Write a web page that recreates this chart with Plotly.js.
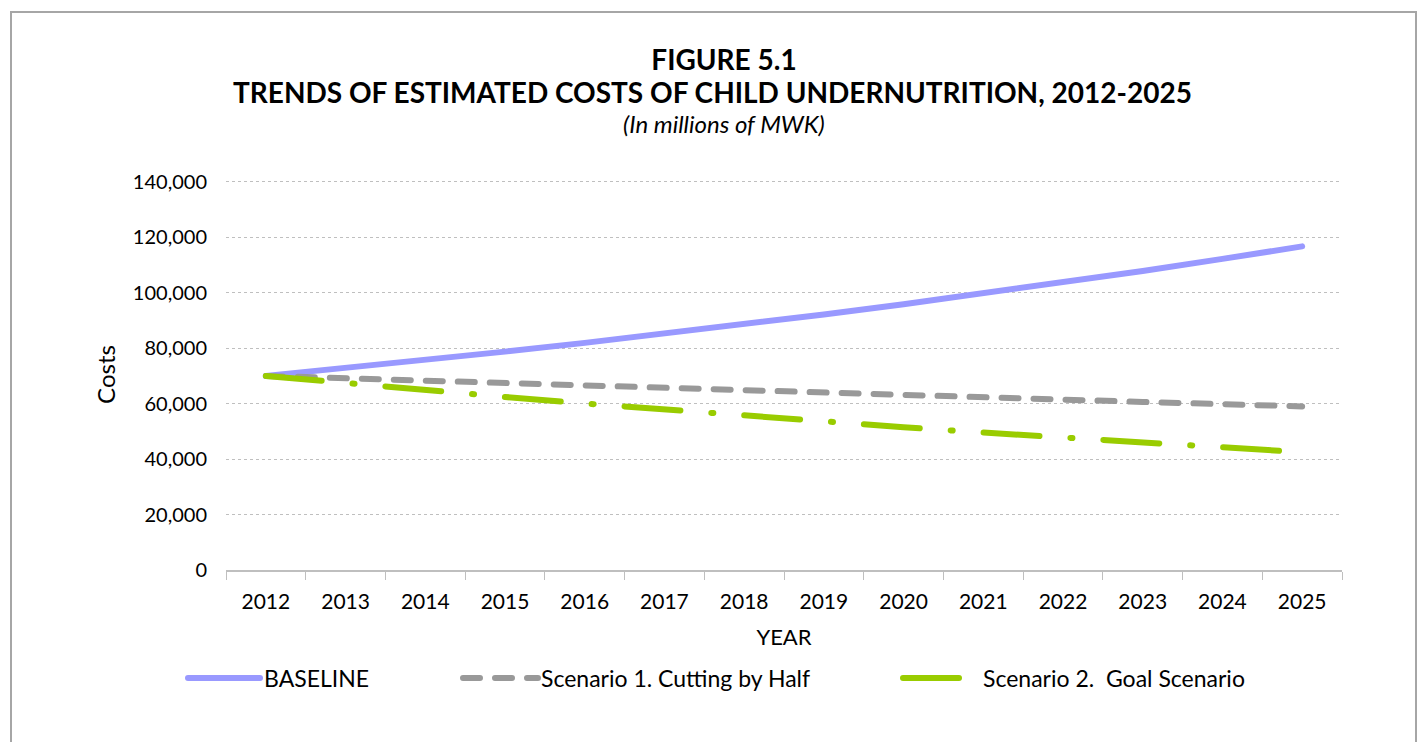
<!DOCTYPE html>
<html>
<head>
<meta charset="utf-8">
<script src="https://cdn.plot.ly/plotly-3.0.1.min.js"></script>
<style>
	html, body { margin: 0; padding: 0; background: #fff; }
	#chart { width: 1426px; height: 742px; }
	.scatterlayer .js-line, .legendlines path { stroke-linecap: round !important; }
</style>
</head>
<body>
<div id="chart"></div>
<script>
// values (millions of MWK)
const years = ['2012', '2013', '2014', '2015', '2016', '2017', '2018', '2019', '2020', '2021', '2022', '2023', '2024', '2025']
const baseline = [70000, 72800, 75700, 78750, 81900, 85200, 88600, 92150, 95850, 99700, 103700, 107850, 112200, 116700]
const scenario1 = [70000, 69100, 68200, 67300, 66400, 65550, 64700, 63850, 63050, 62200, 61400, 60600, 59800, 59000]
const scenario2 = [70000, 67350, 64800, 62400, 60050, 57800, 55600, 53500, 51500, 49550, 47700, 45900, 44150, 42500]
const seriesNames = ['BASELINE', 'Scenario 1. Cutting by Half', 'Scenario 2.  Goal Scenario']
const yTicks = [0, 20000, 40000, 60000, 80000, 100000, 120000, 140000]

const FONT = 'Lato, "Open Sans", sans-serif'

const newTrace = (y, name, color, dash, legendId) => {
	return {
		type: 'scatter',
		mode: 'lines',
		name: name,
		x: years,
		y: y,
		line: {color: color, width: 6, dash: dash},
		legend: legendId,
		showlegend: true,
		hoverinfo: 'x+y+name'
	}
}

const data = [
	newTrace(baseline, seriesNames[0], '#9999FF', 'solid', 'legend'),
	newTrace(scenario1, seriesNames[1], '#999999', '17px,15px', 'legend2'),
	newTrace(scenario2, seriesNames[2], '#99CC00', '56px,31px,2px,31px', 'legend3')
]

const legendAt = (xpx, itemw) => ({
	orientation: 'h',
	xref: 'container', yref: 'container',
	x: xpx / 1426, xanchor: 'left',
	y: 64 / 742, yanchor: 'middle',
	itemwidth: itemw,
	bgcolor: 'rgba(0,0,0,0)',
	font: {family: FONT, size: 23, color: '#000'}
})

// paper coords from pixel positions (plot area x 226..1342, y 179..570)
const px = x => (x - 226) / 1116
const py = y => (570 - y) / 391

const layout = {
	width: 1426,
	height: 742,
	showlegend: true,
	paper_bgcolor: '#fff',
	plot_bgcolor: '#fff',
	margin: {l: 226, r: 84, t: 179, b: 172},
	font: {family: FONT, color: '#000'},
	title: {
		text: '<b>FIGURE 5.1</b>',
		font: {family: FONT, size: 28, color: '#000'},
		xref: 'container', yref: 'container',
		x: 724 / 1426, xanchor: 'center',
		y: 1 - 60 / 742, yanchor: 'middle'
	},
	annotations: [
		{
			text: '<b>TRENDS OF ESTIMATED COSTS OF CHILD UNDERNUTRITION, 2012-2025</b>',
			xref: 'paper', yref: 'paper', x: px(231), y: py(92),
			xanchor: 'left', yanchor: 'middle', showarrow: false,
			font: {family: FONT, size: 28, color: '#000'}
		},
		{
			text: '<i>(In millions of MWK)</i>',
			xref: 'paper', yref: 'paper', x: px(724), y: py(123),
			xanchor: 'center', yanchor: 'middle', showarrow: false,
			font: {family: FONT, size: 24, color: '#000'}
		}
	],
	xaxis: {
		type: 'category',
		range: [-0.5, 13.5],
		tickson: 'boundaries',
		ticks: 'outside',
		ticklen: 8,
		tickcolor: '#BFBFBF',
		showline: true,
		linecolor: '#BFBFBF',
		linewidth: 1.5,
		showgrid: false,
		zeroline: false,
		ticklabelstandoff: 12,
		tickfont: {family: FONT, size: 21, color: '#000'},
		title: {text: 'YEAR', font: {family: FONT, size: 22, color: '#000'}, standoff: 18}
	},
	yaxis: {
		range: [0, 141000],
		tickvals: yTicks,
		tickformat: ',d',
		showline: false,
		zeroline: false,
		showgrid: true,
		gridcolor: '#BFBFBF',
		griddash: 'dot',
		gridwidth: 1,
		ticks: '',
		ticklabelstandoff: 18,
		tickfont: {family: FONT, size: 20, color: '#000'},
		title: {text: 'Costs', font: {family: FONT, size: 24, color: '#000'}, standoff: 10}
	},
	legend: legendAt(183, 71),
	legend2: legendAt(458, 73),
	legend3: legendAt(898, 75),
	shapes: [{
		type: 'rect', xref: 'paper', yref: 'paper', layer: 'below',
		x0: px(11), x1: px(1416),
		y0: -0.6, y1: py(12),
		line: {color: '#A6A6A6', width: 2}
	}]
}

const legendLineLen = {legend: 72, legend2: 75, legend3: 63}

Plotly.newPlot('chart', data, layout, {displayModeBar: false, responsive: false}).then(gd => {
	Object.keys(legendLineLen).forEach(id => {
		gd.querySelectorAll('g.' + id + ' .legendlines path').forEach(p => {
			p.setAttribute('d', 'M5,0h' + legendLineLen[id])
		})
	})
})
</script>
</body>
</html>
